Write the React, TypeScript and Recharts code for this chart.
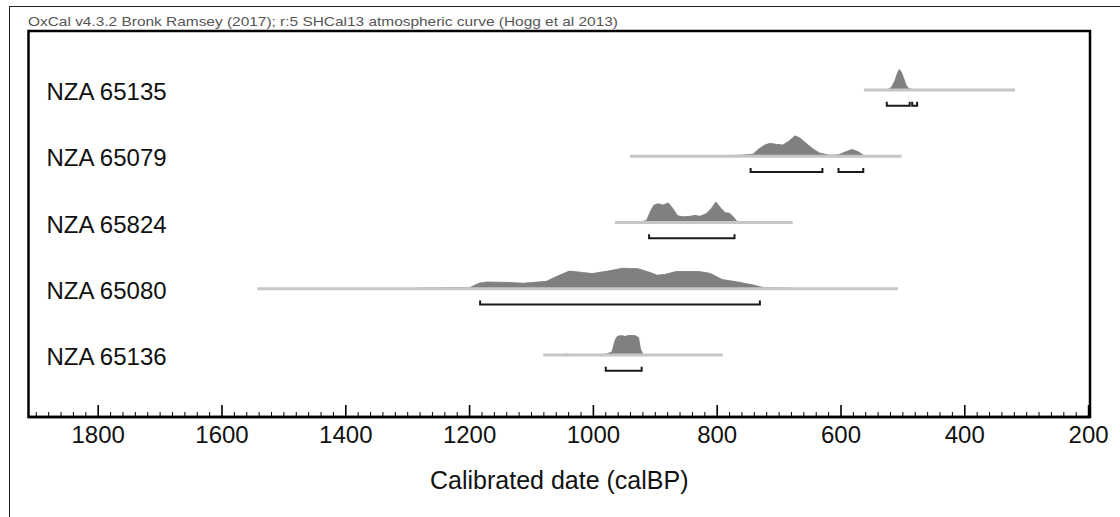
import React from 'react';
import { ComposedChart, XAxis, YAxis, Area, Line, ReferenceArea, Label } from 'recharts';

// ---- data ----
const headerText = 'OxCal v4.3.2 Bronk Ramsey (2017); r:5 SHCal13 atmospheric curve (Hogg et al 2013)';
const axisTitle = 'Calibrated date (calBP)';

const samples = ['NZA 65135', 'NZA 65079', 'NZA 65824', 'NZA 65080', 'NZA 65136'];

// full extent of each calibrated distribution (calBP, old -> young)
const extents: [number, number][] = [
  [563, 319],
  [941, 502],
  [965, 678],
  [1543, 508],
  [1081, 791],
];

// highest posterior density ranges (calBP)
const hpdRanges: [number, number][][] = [
  [[526, 489], [485, 477]],
  [[746, 630], [604, 564]],
  [[910, 772]],
  [[1183, 731]],
  [[980, 922]],
];

// relative probability [calBP, p]
const dist65135: [number, number][] = [
  [532, 0], [524, 0.03], [518, 0.15], [513, 0.45], [509, 0.8], [506, 1.0], [503, 0.9],
  [499, 0.6], [495, 0.25], [491, 0.08], [485, 0.03], [470, 0.01], [460, 0],
];
const dist65079: [number, number][] = [
  [830, 0], [801, 0.02], [763, 0.05], [742, 0.1], [734, 0.33], [723, 0.55], [715, 0.63],
  [704, 0.58], [694, 0.55], [685, 0.72], [674, 1.0], [666, 0.88], [655, 0.6], [645, 0.35],
  [634, 0.15], [618, 0.05], [604, 0.07], [594, 0.2], [582, 0.33], [572, 0.22], [564, 0.05],
  [553, 0.01], [542, 0],
];
const dist65824: [number, number][] = [
  [935, 0], [925, 0.02], [914, 0.1], [907, 0.6], [902, 0.85], [895, 0.92], [888, 0.85],
  [879, 0.95], [872, 0.7], [864, 0.33], [855, 0.28], [844, 0.3], [836, 0.35], [828, 0.3],
  [818, 0.43], [809, 0.7], [802, 1.0], [794, 0.7], [787, 0.48], [780, 0.45], [774, 0.28],
  [768, 0.05], [758, 0.01], [742, 0],
];
const dist65080: [number, number][] = [
  [1300, 0], [1274, 0.04], [1225, 0.05], [1200, 0.05], [1185, 0.27], [1172, 0.33],
  [1138, 0.31], [1113, 0.27], [1076, 0.36], [1058, 0.62], [1039, 0.86], [1021, 0.81],
  [1002, 0.74], [977, 0.86], [953, 1.0], [928, 0.98], [909, 0.8], [897, 0.66], [885, 0.7],
  [866, 0.84], [829, 0.84], [811, 0.75], [792, 0.45], [767, 0.33], [743, 0.19], [724, 0.05],
  [693, 0.04], [674, 0.01], [656, 0],
];
const dist65136: [number, number][] = [
  [1065, 0], [1054, 0.02], [1043, 0.04], [1032, 0.02], [1011, 0.01], [981, 0.03],
  [970, 0.15], [965, 0.72], [961, 0.92], [954, 0.95], [949, 0.9], [944, 0.95], [933, 0.95],
  [927, 0.85], [924, 0.3], [920, 0.02], [915, 0],
];
const distributions = [dist65135, dist65079, dist65824, dist65080, dist65136];

const majorTicks = [1800, 1600, 1400, 1200, 1000, 800, 600, 400, 200];
const minorStep = 20;

// ---- layout ----
const W = 1120;
const HT = 517;
const yAxisWidth = 2;
const margin = { top: 31, right: 30, bottom: 10, left: 26.5 };
const xAxisHeight = 90;
const plotH = HT - margin.top - margin.bottom - xAxisHeight; // y units == px
const xDomain: [number, number] = [197.7, 1912.6];
const rowFirst = 59;
const rowGap = 66.25;
const peakH = 20.5;
const bracketDrop = 15.7;
const bracketTick = 4;
const FONT = '"Liberation Sans", Arial, sans-serif';

const allTicks: number[] = [];
for (let v = 200; v <= 1900; v += minorStep) allTicks.push(v);

const baseOf = (i: number) => plotH - (rowFirst + rowGap * i);
const rowBases = samples.map((_, i) => baseOf(i));

const XTick = (props: any) => {
  const { x, y, payload } = props;
  const v = payload.value as number;
  const major = majorTicks.includes(v);
  return (
    <g>
      <line x1={x} x2={x} y1={y} y2={y - (major ? 12 : 5)} stroke="#000" strokeWidth={major ? 1.6 : 1} />
      {major && (
        <text x={x} y={y + 26} textAnchor="middle" fontSize={24} fontFamily={FONT} fill="#111">
          {v}
        </text>
      )}
    </g>
  );
};

const YTick = (props: any) => {
  const { x, y, payload, index } = props;
  let idx = rowBases.findIndex((b) => Math.abs(b - Number(payload?.value)) < 0.5);
  if (idx < 0 && typeof index === 'number') idx = index;
  return (
    <text x={x + 18} y={y + 10} textAnchor="start" fontSize={24} fontFamily={FONT} fill="#111">
      {idx >= 0 && idx < samples.length ? samples[idx] : ''}
    </text>
  );
};

export default function App() {
  return (
    <div style={{ position: 'absolute', left: 0, top: 0, width: W, height: HT, overflow: 'hidden', background: '#fff' }}>
      <div
        style={{
          position: 'absolute', left: 9, top: 6, width: W, height: HT,
          borderLeft: '1px solid #222', borderTop: '1px solid #222', boxSizing: 'border-box',
        }}
      />
      <svg width={W} height={40} style={{ position: 'absolute', left: 0, top: 0 }}>
        <text
          x={28}
          y={26}
          fontSize={13.5}
          fontFamily={FONT}
          fill="#555"
          textLength={590}
          lengthAdjust="spacingAndGlyphs"
        >
          {headerText}
        </text>
      </svg>
      <div style={{ position: 'absolute', left: 0, top: 0 }}>
        <ComposedChart width={W} height={HT} margin={margin}>
          <XAxis
            dataKey="x"
            type="number"
            domain={xDomain}
            reversed
            allowDataOverflow
            ticks={allTicks}
            interval={0}
            tickSize={0}
            tickMargin={0}
            tickLine={false}
            tick={<XTick />}
            height={xAxisHeight}
            axisLine={{ stroke: '#000', strokeWidth: 2.5 }}
          >
            <Label
              value={axisTitle}
              position="insideBottom"
              offset={18}
              style={{ fontSize: 25, fontFamily: FONT, fill: '#111' }}
            />
          </XAxis>
          <YAxis
            type="number"
            domain={[0, plotH]}
            allowDataOverflow
            ticks={rowBases}
            interval={0}
            width={yAxisWidth}
            tickSize={0}
            tickMargin={0}
            tickLine={false}
            axisLine={false}
            tick={(p: any) => <YTick {...p} />}
          />
          <ReferenceArea
            x1={xDomain[0]}
            x2={xDomain[1]}
            y1={0}
            y2={plotH}
            fill="none"
            fillOpacity={0}
            stroke="#000"
            strokeWidth={2.5}
            ifOverflow="extendDomain"
          />
          {extents.map((e, i) => (
            <Line
              key={'ext' + i}
              data={[{ x: e[0], y: baseOf(i) }, { x: e[1], y: baseOf(i) }]}
              dataKey="y"
              stroke="#c6c6c6"
              strokeWidth={3}
              dot={false}
              activeDot={false}
              isAnimationActive={false}
            />
          ))}
          {distributions.map((d, i) => (
            <Area
              key={'dist' + i}
              data={d.map(([x, p]) => ({ x, y: [baseOf(i), baseOf(i) + p * peakH] }))}
              dataKey="y"
              type="linear"
              stroke="#7a7a7a"
              strokeWidth={0.8}
              fill="#808080"
              fillOpacity={1}
              dot={false}
              activeDot={false}
              isAnimationActive={false}
            />
          ))}
          {hpdRanges.flatMap((rs, i) =>
            rs.map((r, j) => {
              const yb = baseOf(i) - bracketDrop;
              return (
                <Line
                  key={'hpd' + i + '-' + j}
                  data={[
                    { x: r[0], y: yb + bracketTick },
                    { x: r[0], y: yb },
                    { x: r[1], y: yb },
                    { x: r[1], y: yb + bracketTick },
                  ]}
                  dataKey="y"
                  stroke="#1a1a1a"
                  strokeWidth={2}
                  dot={false}
                  activeDot={false}
                  isAnimationActive={false}
                />
              );
            })
          )}
        </ComposedChart>
      </div>
    </div>
  );
}
